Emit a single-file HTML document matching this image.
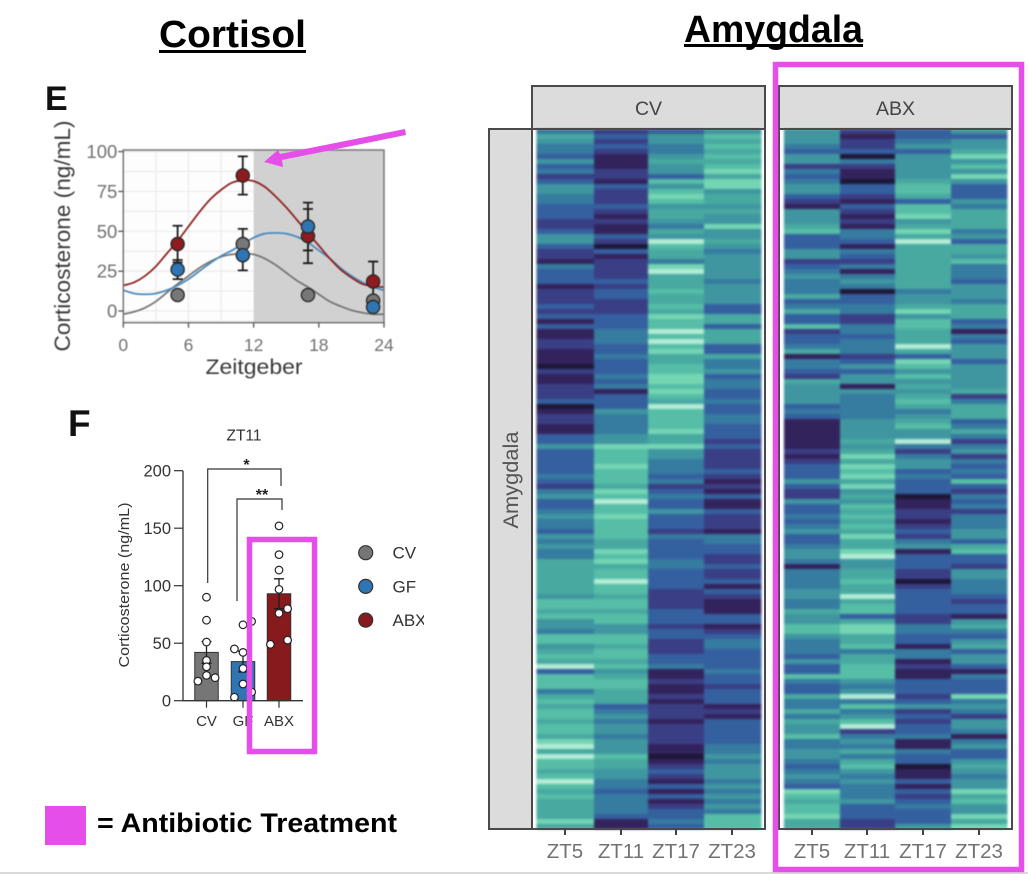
<!DOCTYPE html>
<html lang="en">
<head>
<meta charset="utf-8">
<title>Cortisol and Amygdala figure</title>
<style>
html,body{margin:0;padding:0;background:#fff;width:1028px;height:874px;overflow:hidden}
svg{display:block;font-family:"Liberation Sans",Arial,sans-serif}
</style>
</head>
<body>
<svg id="fig" xmlns="http://www.w3.org/2000/svg" width="1028" height="874" viewBox="0 0 1028 874">
  <defs>
    <clipPath id="legendClip"><rect x="340" y="530" width="84" height="110"/></clipPath>
  </defs>
  <rect x="0" y="0" width="1028" height="874" fill="#ffffff"/>
  <rect x="0" y="872" width="1028" height="2" fill="#d9d9d9"/>

  <text x="159" y="47" font-size="38" font-weight="700" fill="#000" textLength="147" lengthAdjust="spacingAndGlyphs">Cortisol</text>
  <rect x="159" y="50" width="147" height="3" fill="#000"/>
  <text x="684" y="42" font-size="38" font-weight="700" fill="#000" textLength="179" lengthAdjust="spacingAndGlyphs">Amygdala</text>
  <rect x="684" y="44" width="179" height="3" fill="#000"/>

  <text x="45" y="110" font-size="34" font-weight="700" fill="#111">E</text>
  <text x="68" y="436" font-size="37" font-weight="700" fill="#111">F</text>

  <g id="lineChart"></g>
  <g id="barChart"></g>
  <g id="heat"></g>

  <polygon fill="#e54ee8" points="405,129 406,135 282,160 283,167 264,162 278,150 280,154"/>
  <rect x="249.5" y="539.5" width="65" height="212" fill="none" stroke="#e54ee8" stroke-width="5.5"/>
  <rect x="775.5" y="64.5" width="246" height="805" fill="none" stroke="#e54ee8" stroke-width="5.5"/>
  <rect x="45" y="806" width="41" height="39" fill="#e54ee8"/>
  <text x="97" y="832" font-size="27" font-weight="700" fill="#000" textLength="300" lengthAdjust="spacingAndGlyphs">= Antibiotic Treatment</text>
</svg>

<script>
// ---------- Panel E data ----------
const lineHours = [0,1,2,3,4,5,6,7,8,9,10,11,12,13,14,15,16,17,18,19,20,21,22,23,24];
const lineAbx = [16,18,22,28,36,44,53,62,70,76,80.5,82,81.5,78,72,65,57,49,41,33,26,21,17,15.5,15];
const lineGf = [13,11,10.5,11,13,16,20,25,30,34.5,38,42,46,48.5,49,48.5,46.5,43,38,33,27,22,18,15,13];
const lineCv = [-2,-0.5,2,6,11.5,17,22,27,31,34,35.5,36,35.5,33,29,24,19,15,10.5,6,3,0.5,-1,-2,-2];
const pointHours = [5,11,17,23];
const pointsAbx = [42,85,47,18.5];
const pointsCv = [10,42,10,6.5];
const pointsGf = [26,35,53,2.5];
const errAbx = [11.5,12,17,12.5];
const errCv = [0,9.5,0,0];
const errGf = [6,9.5,15,0];
const lineYTicks = [0,25,50,75,100];
const lineXTicks = [0,6,12,18,24];

// ---------- Panel F data ----------
const barCategories = ['CV','GF','ABX'];
const barValues = [42,34,93];
const barErrors = [9.5,9,13];
const barYTicks = [0,50,100,150,200];
const dotsCv = [90,70,51,35,29.5,22,17,20];
const dotsGf = [66,69,45,42,28,14.5,3,7.5];
const dotsAbx = [152,127,113.6,96.8,76,80,52.7,49];
const dotSideCv = [0,0,0,0,0,0,-1,1];
const dotSideGf = [0,1,-1,0,0,0,-1,1];
const dotSideAbx = [0,0,0,0,0,1,1,-1];

// ---------- Heatmap data (0 = darkest, 9 = lightest) ----------
const timeLabels = ['ZT5','ZT11','ZT17','ZT23'];
const heatCvZT5 = [
4,6,5,4,4,3,5,3,4,2, 3,5,5,4,4,3,3,3,2,2, 3,5,5,3,2,2,1,4,3,3, 3,1,2,2,2,3,2,3,1,3,
1,1,2,2,1,1,1,0,2,1, 1,2,2,2,3,0,1,2,2,1, 1,3,3,5,3,3,3,3,3,4, 3,2,4,5,3,3,4,5,4,4,
3,5,4,5,4,4,6,6,6,6, 6,6,6,5,7,7,6,7,5,5, 4,7,7,5,6,7,6,9,3,7, 7,7,4,6,7,6,7,7,6,7,
7,6,8,9,6,9,7,7,6,7, 9,7,6,7,6,6,6,6,8,6];
const heatCvZT11 = [
2,3,2,3,2,1,1,1,2,2, 1,3,2,2,2,3,2,1,2,1, 1,3,2,0,3,1,2,2,2,2, 3,2,3,3,2,2,2,3,3,3,
4,4,4,3,3,4,3,3,3,4, 3,4,1,3,3,3,5,4,4,4, 4,5,5,8,7,7,7,8,7,7, 7,6,8,7,9,7,7,8,7,7,
7,7,6,6,8,7,8,6,7,7, 9,7,7,6,7,7,6,7,7,5, 5,7,7,6,7,7,6,7,5,6, 7,7,6,6,6,3,4,5,4,5,
5,4,5,5,5,7,6,6,5,5, 4,4,3,4,4,4,4,3,1,1];
const heatCvZT17 = [
3,5,5,4,4,5,6,5,5,3, 7,5,7,8,7,5,6,6,5,4, 6,5,9,7,6,6,4,8,9,6, 6,6,7,6,6,7,6,8,7,7,
9,7,9,7,8,6,6,7,7,8, 8,7,8,7,6,9,7,7,7,7, 8,6,6,8,5,5,4,4,4,3, 4,2,3,4,3,3,5,3,3,3,
2,4,3,3,3,3,4,4,3,3, 3,3,2,2,2,2,3,3,3,2, 3,3,2,2,2,3,3,4,1,1, 2,1,1,2,1,2,2,2,1,2,
2,2,2,1,1,0,1,2,3,2, 1,3,1,3,1,2,3,3,4,3];
const heatCvZT23 = [
5,7,6,7,6,7,6,7,8,6, 8,8,5,6,6,5,6,5,5,8, 5,5,6,5,4,5,5,5,5,5, 4,5,5,5,5,3,3,6,6,3,
6,6,6,3,3,6,4,4,5,3, 4,4,3,3,4,3,3,4,4,3, 3,3,2,3,2,2,2,2,3,2, 1,2,1,3,1,1,3,2,2,2,
1,4,4,3,3,2,2,3,2,2, 3,1,3,2,1,1,1,3,3,1, 2,3,4,4,3,3,3,3,4,3, 3,2,3,3,3,1,2,1,3,3,
3,3,3,4,4,5,4,5,5,5, 4,5,4,5,4,5,4,7,7,7];
const heatAbxZT5 = [
5,5,5,4,3,5,5,2,4,3, 4,5,5,3,2,1,5,5,5,6, 7,3,3,3,5,5,2,3,4,5, 4,4,4,6,3,4,6,3,3,7,
2,3,3,4,6,1,4,4,3,2, 6,5,5,5,5,3,4,3,1,1, 1,1,1,1,2,1,2,3,3,3, 5,3,2,2,5,3,3,4,3,4,
5,3,3,4,5,5,4,1,4,4, 4,4,5,5,4,4,6,5,5,7, 7,5,4,4,4,3,5,3,3,7, 4,3,3,6,4,4,6,4,6,5,
5,7,4,4,5,5,4,3,4,5, 4,3,8,7,6,7,7,8,6,6];
const heatAbxZT11 = [
2,1,2,2,3,0,4,2,1,1, 0,3,3,2,1,3,2,1,2,1, 4,4,3,1,4,3,2,4,1,4, 5,4,0,3,3,4,4,2,2,4,
4,3,4,4,4,2,3,5,3,5, 5,1,5,4,4,4,4,4,5,5, 5,5,6,5,6,8,6,8,7,8, 6,8,5,6,5,7,6,7,6,7,
6,8,6,6,8,9,5,5,6,6, 7,6,6,9,6,7,7,3,6,8, 8,6,6,7,4,6,6,7,7,7, 5,4,5,9,4,7,4,5,7,9,
2,4,5,4,6,4,6,7,5,4, 5,4,4,4,5,3,3,3,2,2];
const heatAbxZT17 = [
3,3,4,5,3,5,5,5,5,5, 6,7,7,6,3,7,7,8,5,6, 8,6,9,6,6,6,6,6,6,6, 6,6,4,5,5,6,8,5,7,7,
6,6,6,9,6,3,8,7,5,7, 5,6,5,6,7,6,4,5,6,7, 5,5,9,4,2,4,5,5,3,4, 3,3,3,0,1,1,2,2,1,2,
3,2,4,5,1,3,3,3,2,2, 0,2,3,3,3,3,3,2,2,4, 4,3,3,1,4,4,1,2,1,1, 3,3,3,2,3,5,2,3,2,3,
3,4,1,1,4,3,3,0,1,1, 3,1,3,2,3,4,3,3,3,5];
const heatAbxZT23 = [
5,3,5,5,6,8,5,7,5,8, 5,3,3,3,5,4,6,6,6,6, 4,5,3,6,6,5,7,4,4,4, 3,5,5,5,4,6,6,6,3,4,
1,4,3,5,5,5,3,5,5,5, 5,5,6,2,4,6,6,6,3,4, 6,4,2,4,5,2,4,3,4,3, 7,3,2,4,3,4,2,4,4,4,
5,5,3,6,7,3,3,2,5,5, 4,4,4,3,2,3,3,1,5,6, 4,3,5,6,3,5,5,3,1,4, 3,3,3,8,4,5,4,2,5,5,
4,1,4,5,3,3,5,6,5,4, 5,5,8,6,7,5,5,8,6,8];

// ---------- Helpers ----------
const NS = 'http://www.w3.org/2000/svg';
function mk(parent, tag, attrs, txt) {
  const n = document.createElementNS(NS, tag);
  for (const k in attrs) n.setAttribute(k, attrs[k]);
  if (txt !== undefined) n.textContent = txt;
  parent.appendChild(n);
  return n;
}
let el;

// ---------- Panel E ----------
const lc = document.getElementById('lineChart');
lc.setAttribute('style', 'filter:blur(0.4px)');
const xE = h => 123.3 + h * (384 - 123.3) / 24;
const yE = v => 311 - v * 1.594;
const plotTop = 150, plotBottom = 322.7;

el = mk(lc, 'rect', {x:xE(0), y:plotTop, width:xE(24)-xE(0), height:plotBottom-plotTop, fill:'#fdfdfd'});


el = mk(lc, 'rect', {x:xE(12), y:plotTop, width:xE(24)-xE(12), height:plotBottom-plotTop, fill:'#d2d1d1'});



[3,6,9].forEach(h => {
  el = mk(lc, 'line', {x1:xE(h), x2:xE(h), y1:plotTop, y2:plotBottom, stroke:'#ececec', 'stroke-width':1.2});
  
  
});
[-6.25,0,12.5,25,37.5,50,62.5,75,87.5,100].forEach(v => {
  el = mk(lc, 'line', {x1:xE(0), x2:xE(12), y1:yE(v), y2:yE(v), stroke:'#ececec', 'stroke-width':1.2});
  
  
});

function curvePath(values) {
  const p = values.map((v, i) => [xE(lineHours[i]), yE(v)]);
  let d = 'M' + p[0][0] + ' ' + p[0][1];
  for (let i = 0; i < p.length - 1; i++) {
    const a = p[Math.max(i-1,0)], b = p[i], c = p[i+1], e = p[Math.min(i+2,p.length-1)];
    d += ' C' + (b[0]+(c[0]-a[0])/6) + ' ' + (b[1]+(c[1]-a[1])/6) + ' ' + (c[0]-(e[0]-b[0])/6) + ' ' + (c[1]-(e[1]-b[1])/6) + ' ' + c[0] + ' ' + c[1];
  }
  return d;
}
el = mk(lc, 'path', {d:curvePath(lineCv), fill:'none', stroke:'#777777', 'stroke-width':1.8});


el = mk(lc, 'path', {d:curvePath(lineGf), fill:'none', stroke:'#4a8bbf', 'stroke-width':1.8});


el = mk(lc, 'path', {d:curvePath(lineAbx), fill:'none', stroke:'#8f2525', 'stroke-width':1.8});



function errorBars(values, errs) {
  values.forEach((v, i) => {
    if (!errs[i]) return;
    const x = xE(pointHours[i]);
    const d = 'M'+x+' '+yE(v-errs[i])+' V'+yE(v+errs[i])+' M'+(x-5)+' '+yE(v-errs[i])+' H'+(x+5)+' M'+(x-5)+' '+yE(v+errs[i])+' H'+(x+5);
    el = mk(lc, 'path', {d:d, stroke:'#1c1c1c', 'stroke-width':1.8, fill:'none'});
    
    
  });
}
errorBars(pointsAbx, errAbx);
errorBars(pointsCv, errCv);
errorBars(pointsGf, errGf);

function dots(values, fill) {
  values.forEach((v, i) => {
    el = mk(lc, 'circle', {cx:xE(pointHours[i]), cy:yE(v), r:6.6, fill:fill, stroke:'#262626', 'stroke-width':1.3});
    
    
  });
}
dots(pointsAbx, '#8e1b1e');
dots(pointsCv, '#777777');
dots(pointsGf, '#2f74b3');

el = mk(lc, 'rect', {x:xE(0), y:plotTop, width:xE(24)-xE(0), height:plotBottom-plotTop, fill:'none', stroke:'#777', 'stroke-width':1.5});



lineYTicks.forEach(v => {
  el = mk(lc, 'line', {x1:xE(0)-5, x2:xE(0), y1:yE(v), y2:yE(v), stroke:'#555', 'stroke-width':1.3});
  
  
  el = mk(lc, 'text', {x:xE(0)-6, y:yE(v)+6.5, 'text-anchor':'end', 'font-size':18.5, fill:'#707070'}, String(v));
  
  
});
lineXTicks.forEach(h => {
  el = mk(lc, 'line', {x1:xE(h), x2:xE(h), y1:plotBottom, y2:plotBottom+5, stroke:'#555', 'stroke-width':1.3});
  
  
  el = mk(lc, 'text', {x:xE(h), y:351, 'text-anchor':'middle', 'font-size':17.5, fill:'#707070'}, String(h));
  
  
});
el = mk(lc, 'text', {x:254, y:374, 'text-anchor':'middle', 'font-size':21, fill:'#3a3a3a', textLength:97, lengthAdjust:'spacingAndGlyphs'}, 'Zeitgeber');


el = mk(lc, 'text', {transform:'translate(70 236) rotate(-90)', 'text-anchor':'middle', 'font-size':22, fill:'#3a3a3a', textLength:231, lengthAdjust:'spacingAndGlyphs'}, 'Corticosterone (ng/mL)');



// ---------- Panel F ----------
const bc = document.getElementById('barChart');
bc.setAttribute('style', 'filter:blur(0.3px)');
const yF = v => 700.7 - v * 1.15;
const barCenters = {CV:206.5, GF:243, ABX:279};
const barW = 23.5, sideOffset = 8.6;
const barFills = {CV:'#767676', GF:'#2f74b3', ABX:'#861a1c'};
const dotSets = {CV:[dotsCv,dotSideCv], GF:[dotsGf,dotSideGf], ABX:[dotsAbx,dotSideAbx]};

barCategories.forEach((c, i) => {
  const cx = barCenters[c];
  el = mk(bc, 'rect', {x:cx-barW/2, y:yF(barValues[i]), width:barW, height:yF(0)-yF(barValues[i]), fill:barFills[c], stroke:'#333', 'stroke-width':1});
  
  
  const lo = yF(barValues[i]-barErrors[i]), hi = yF(barValues[i]+barErrors[i]);
  el = mk(bc, 'path', {d:'M'+cx+' '+lo+' V'+hi+' M'+(cx-5)+' '+lo+' H'+(cx+5)+' M'+(cx-5)+' '+hi+' H'+(cx+5), stroke:'#1e1e1e', 'stroke-width':1.3, fill:'none'});
  
  
  dotSets[c][0].forEach((v, j) => {
    el = mk(bc, 'circle', {cx:cx+dotSets[c][1][j]*sideOffset, cy:yF(v), r:3.8, fill:'#fff', stroke:'#222', 'stroke-width':1.2});
    
    
  });
  el = mk(bc, 'line', {x1:cx, x2:cx, y1:yF(0), y2:yF(0)+7, stroke:'#333', 'stroke-width':1.2});
  
  
  el = mk(bc, 'text', {x:cx, y:726, 'text-anchor':'middle', 'font-size':15, fill:'#333'}, c);
  
  
});
el = mk(bc, 'path', {d:'M183 '+yF(200)+' V'+yF(0)+' H303', stroke:'#333', 'stroke-width':1.3, fill:'none'});


barYTicks.forEach(v => {
  el = mk(bc, 'line', {x1:174, x2:183, y1:yF(v), y2:yF(v), stroke:'#333', 'stroke-width':1.2});
  
  
  el = mk(bc, 'text', {x:171, y:yF(v)+6, 'text-anchor':'end', 'font-size':16.5, fill:'#333'}, String(v));
  
  
});
el = mk(bc, 'text', {x:244, y:440.5, 'text-anchor':'middle', 'font-size':15.5, fill:'#333'}, 'ZT11');


el = mk(bc, 'text', {transform:'translate(129 585) rotate(-90)', 'text-anchor':'middle', 'font-size':15, fill:'#333', textLength:165, lengthAdjust:'spacingAndGlyphs'}, 'Corticosterone (ng/mL)');


el = mk(bc, 'path', {d:'M207.7 583 V469 H281 V486', stroke:'#333', 'stroke-width':1.2, fill:'none'});


el = mk(bc, 'path', {d:'M237 601 V499 H282 V510', stroke:'#333', 'stroke-width':1.2, fill:'none'});


el = mk(bc, 'text', {x:246.5, y:470, 'text-anchor':'middle', 'font-size':16, 'font-weight':700, fill:'#222'}, '*');


el = mk(bc, 'text', {x:262, y:500, 'text-anchor':'middle', 'font-size':16, 'font-weight':700, fill:'#222'}, '**');



const legendGroup = mk(bc, 'g', {'clip-path':'url(#legendClip)'});


barCategories.forEach((c, i) => {
  const ly = 552.7 + i * 33.7;
  el = mk(legendGroup, 'circle', {cx:365.7, cy:ly, r:7, fill:barFills[c], stroke:'#333', 'stroke-width':1.2});
  
  
  el = mk(legendGroup, 'text', {x:392.5, y:ly+6, 'font-size':17, fill:'#333'}, c);
  
  
});

// ---------- Heatmap ----------
const hg = document.getElementById('heat');
const ramp = ['#1d1738','#33235c','#3a3f85','#35609f','#367ba0','#3f96a0','#48a9a1','#56bea6','#74d5b3','#b4ecd6'];
const heatTop = 129, rowH = 5;
const panels = [
  {name:'cv', label:'CV', frameX:532, frameR:765, colX:[536.5,594,648,704,761], tickX:[565,621,676,732], cols:[heatCvZT5,heatCvZT11,heatCvZT17,heatCvZT23]},
  {name:'abx', label:'ABX', frameX:779, frameR:1012, colX:[784,840,895,951,1007], tickX:[812,867,923,979], cols:[heatAbxZT5,heatAbxZT11,heatAbxZT17,heatAbxZT23]}
];

panels.forEach(p => {
  const fw = p.frameR - p.frameX;
  el = mk(hg, 'rect', {x:p.frameX, y:86, width:fw, height:43, fill:'#dcdcdc', stroke:'#4a4a4a', 'stroke-width':2});
  
  
  el = mk(hg, 'text', {x:(p.frameX+p.frameR)/2, y:115, 'text-anchor':'middle', 'font-size':19.5, fill:'#444'}, p.label);
  
  
  el = mk(hg, 'rect', {x:p.frameX, y:heatTop, width:fw, height:700, fill:'#fff'});
  
  
  const cellGroup = mk(hg, 'g', {style:'filter:blur(1px)'});
  
  
  p.cols.forEach((col, c) => {
    col.forEach((v, r) => {
      el = mk(cellGroup, 'rect', {x:p.colX[c], y:heatTop+r*rowH, width:p.colX[c+1]-p.colX[c]+0.4, height:rowH+0.4, fill:ramp[v]});
      
      
    });
  });
  el = mk(hg, 'rect', {x:p.frameX, y:heatTop, width:fw, height:700, fill:'none', stroke:'#4a4a4a', 'stroke-width':2});
  
  
  timeLabels.forEach((t, i) => {
    el = mk(hg, 'line', {x1:p.tickX[i], x2:p.tickX[i], y1:829, y2:835, stroke:'#444', 'stroke-width':2});
    
    
    el = mk(hg, 'text', {x:p.tickX[i], y:858, 'text-anchor':'middle', 'font-size':20.5, fill:'#727272'}, t);
    
    
  });
});
el = mk(hg, 'rect', {x:489, y:heatTop, width:43, height:700, fill:'#dcdcdc', stroke:'#4a4a4a', 'stroke-width':2});


el = mk(hg, 'text', {transform:'translate(518 480) rotate(-90)', 'text-anchor':'middle', 'font-size':21, fill:'#555', textLength:97, lengthAdjust:'spacingAndGlyphs'}, 'Amygdala');


</script>
</body>
</html>
